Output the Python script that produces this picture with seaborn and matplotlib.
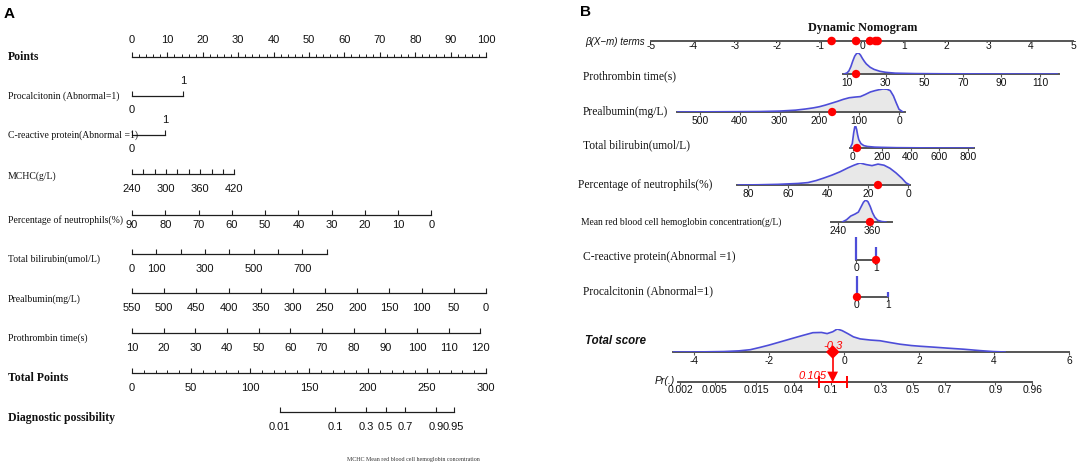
import numpy as np
import matplotlib
matplotlib.use("Agg")
import matplotlib.pyplot as plt
from matplotlib.ticker import NullLocator
import seaborn as sns

# ======================= DATA: panel A (static nomogram) =======================
points_ticks = list(range(0, 101, 10))
points_minor = list(range(0, 101, 2))
pct_levels = [0, 1]
pct_points = [0, 14.4]
crp_levels = [0, 1]
crp_points = [0, 9.3]
mchc_range = [240, 420]
mchc_points = [0, 28.9]
mchc_ticks = list(range(240, 421, 20))
mchc_labels = [240, 300, 360, 420]
neut_range = [90, 0]
neut_points = [0, 84.6]
neut_ticks = list(range(90, -1, -10))
tbil_range = [0, 800]
tbil_points = [0, 55.0]
tbil_ticks = list(range(0, 801, 100))
tbil_labels = [0, 100, 300, 500, 700]
pab_range = [550, 0]
pab_points = [0, 100]
pab_ticks = list(range(550, -1, -50))
pt_range = [10, 120]
pt_points = [0, 98.4]
pt_ticks = list(range(10, 121, 10))
total_range = [0, 300]
total_ticks = list(range(0, 301, 50))
total_minor = list(range(0, 301, 10))
diag_probs = [0.01, 0.1, 0.3, 0.5, 0.7, 0.9, 0.95]
diag_mid_points = 215.0   # total points at possibility 0.5
diag_slope = 0.0511       # logit units per total point

a_labels = ["Points", "Procalcitonin (Abnormal=1)", "C-reactive protein(Abnormal =1)",
            "MCHC(g/L)", "Percentage of neutrophils(%)", "Total bilirubin(umol/L)",
            "Prealbumin(mg/L)", "Prothrombin time(s)", "Total Points", "Diagnostic possibility"]
a_bold = ["Points", "Total Points", "Diagnostic possibility"]

# ======================= DATA: panel B (dynamic nomogram) =======================
beta_ticks = list(range(-5, 6))
beta_terms = [-0.72, -0.14, 0.19, 0.32, 0.37]

pt_dens_x = [8.5, 10, 11, 12, 13, 14, 15, 16, 17, 18, 19, 20, 22, 24, 27, 30, 35, 45, 60, 80, 100, 119]
pt_dens_y = [0.0, 0.05, 0.15, 0.35, 0.62, 0.85, 0.98, 1.0, 0.9, 0.74, 0.6, 0.48, 0.32, 0.22, 0.13,
             0.08, 0.04, 0.02, 0.01, 0.005, 0.0, 0.0]
pt_b_ticks = [10, 30, 50, 70, 90, 110]

pab_dens_x = [557, 450, 350, 300, 260, 235, 215, 200, 185, 170, 155, 140, 125, 110, 97, 85, 72,
              60, 50, 40, 30, 22, 14, 7, 0, -10]
pab_dens_y = [0.0, 0.01, 0.02, 0.04, 0.08, 0.13, 0.18, 0.23, 0.3, 0.38, 0.46, 0.55, 0.62, 0.65,
              0.67, 0.76, 0.87, 0.93, 0.97, 1.0, 0.99, 0.93, 0.7, 0.4, 0.12, 0.0]
pab_b_ticks = [500, 400, 300, 200, 100, 0]

tbil_dens_x = [-20, -5, 5, 12, 18, 25, 32, 40, 55, 75, 100, 150, 200, 300, 450, 600, 840]
tbil_dens_y = [0.0, 0.2, 0.7, 0.95, 1.0, 0.85, 0.6, 0.38, 0.2, 0.11, 0.07, 0.04, 0.03, 0.015,
               0.008, 0.003, 0.0]
tbil_b_ticks = [0, 200, 400, 600, 800]

neut_dens_x = [85, 75, 65, 55, 50, 46, 42, 38, 34, 30, 27, 24, 21, 18, 15, 12, 9, 6, 3, 1, -1]
neut_dens_y = [0.0, 0.01, 0.03, 0.07, 0.11, 0.2, 0.32, 0.45, 0.6, 0.78, 0.9, 1.0, 0.93, 0.88,
               0.95, 0.9, 0.76, 0.55, 0.3, 0.1, 0.0]
neut_b_ticks = [80, 60, 40, 20, 0]

mchc_dens_x = [255, 270, 285, 300, 312, 322, 330, 338, 346, 354, 362, 370, 380, 395, 410]
mchc_dens_y = [0.0, 0.1, 0.27, 0.36, 0.45, 0.7, 0.9, 1.0, 0.92, 0.7, 0.42, 0.22, 0.08, 0.02, 0.0]
mchc_b_ticks = [240, 360]

crp_spikes = [1.0, 0.57]
pct_spikes = [0.96, 0.22]

cur_pt, cur_pab, cur_tbil, cur_neut, cur_mchc, cur_crp, cur_pct = 14.7, 168, 28, 15, 353, 1, 0

score_dens_x = [-4.56, -3.8, -3.2, -2.8, -2.5, -2.24, -2.0, -1.7, -1.36, -1.1, -0.83, -0.6, -0.45,
                -0.3, -0.18, -0.05, 0.1, 0.25, 0.43, 0.7, 0.96, 1.2, 1.49, 1.8, 2.03, 2.4, 2.74,
                3.2, 3.63, 3.97, 4.3]
score_dens_y = [0.0, 0.005, 0.02, 0.05, 0.1, 0.2, 0.3, 0.44, 0.6, 0.72, 0.84, 0.85, 0.8, 0.88,
                1.0, 0.93, 0.8, 0.66, 0.57, 0.52, 0.49, 0.42, 0.34, 0.28, 0.25, 0.21, 0.17, 0.12,
                0.06, 0.02, 0.0]
score_ticks = [-4, -2, 0, 2, 4, 6]
total_score = -0.3
pr_offset = 1.84
pr_value = 0.105
pr_ci = [0.075, 0.147]
pr_ticks = [0.002, 0.005, 0.015, 0.04, 0.1, 0.3, 0.5, 0.7, 0.9, 0.96]

# ======================= STYLE =======================
sns.set_theme(style="white")
SERIF = ["Liberation Serif", "DejaVu Serif"]
SANS = ["Liberation Sans", "DejaVu Sans"]
plt.rcParams["font.family"] = SANS
plt.rcParams["axes.unicode_minus"] = False

W, H = 1084, 474
A_LINE = "#1e1e1e"
B_LINE = "#555555"
BLUE = "#4d4dd8"
FILL = "#e8e8e8"
RED = "#ff0000"


def expit(v):
    return 1.0 / (1.0 + np.exp(-np.asarray(v, dtype=float)))


fig = plt.figure(figsize=(W / 100, H / 100), dpi=100)


def px_axes(left, line_y, width, height):
    ax = fig.add_axes([left / W, 1 - line_y / H, width / W, height / H])
    ax.patch.set_alpha(0)
    for s in ("top", "left", "right"):
        ax.spines[s].set_visible(False)
    ax.tick_params(axis="y", left=False, right=False, labelleft=False)
    ax.grid(False)
    return ax


def fmt(v):
    return str(int(v)) if float(v).is_integer() else str(v)


# ======================= PANEL A =======================
A_X0, A_PX = 132.0, 3.54


def a_scale(line_y, vrange, prange, ticks, labels=None, minor=None, pad=7.2, top=False):
    left = A_X0 + A_PX * prange[0]
    width = A_PX * (prange[1] - prange[0])
    ax = px_axes(left, line_y, width, 1)
    ax.set_ylim(0, 1)
    ax.set_xlim(vrange[0], vrange[1])
    ax.spines["bottom"].set_color(A_LINE)
    ax.spines["bottom"].set_linewidth(0.9)
    shown = ticks if labels is None else labels
    ax.set_xticks(ticks)
    ax.set_xticklabels([fmt(t) if t in shown else "" for t in ticks], family=SANS, fontsize=8,
                       color="#111111")
    if minor is not None:
        ax.set_xticks(minor, minor=True)
    ax.tick_params(axis="x", which="major", direction="in", length=3.5, width=0.8, color=A_LINE,
                   pad=pad, bottom=True, top=False, labelbottom=not top, labeltop=top)
    ax.tick_params(axis="x", which="minor", direction="in", length=2, width=0.7, color=A_LINE,
                   bottom=True, top=False)
    return ax


# Points
a_scale(57, [0, 100], [0, 100], points_ticks, minor=points_minor, pad=8.0, top=True)

# binary rows (0 label below, 1 label above)
for y, lv, pts in ((96, pct_levels, pct_points), (135, crp_levels, crp_points)):
    ax = a_scale(y, lv, pts, lv, pad=7.0)
    ax.tick_params(axis="x", labeltop=True, pad=6.5)
    for tk, v in zip(ax.xaxis.get_major_ticks(), lv):
        tk.label1.set_visible(v == 0)
        tk.label2.set_visible(v == 1)

a_scale(174, mchc_range, mchc_points, mchc_ticks, labels=mchc_labels, pad=7.5)
a_scale(215, neut_range, neut_points, neut_ticks, pad=3.8)
a_scale(254, tbil_range, tbil_points, tbil_ticks, labels=tbil_labels, pad=7.5)
a_scale(293, pab_range, pab_points, pab_ticks, pad=7.0)
a_scale(333, pt_range, pt_points, pt_ticks, pad=7.0)
a_scale(373, total_range, [0, 100], total_ticks, minor=total_minor, pad=7.0)

# Diagnostic possibility on a logit scale aligned with Total Points
axd = px_axes(A_X0, 412, A_PX * 100, 1)
axd.set_xscale("logit")
axd.set_xlim(expit((total_range[0] - diag_mid_points) * diag_slope),
             expit((total_range[1] - diag_mid_points) * diag_slope))
axd.set_ylim(0, 1)
axd.spines["bottom"].set_color(A_LINE)
axd.spines["bottom"].set_linewidth(0.9)
axd.spines["bottom"].set_bounds(diag_probs[0], diag_probs[-1])
axd.set_xticks(diag_probs)
axd.set_xticklabels([str(p) for p in diag_probs], family=SANS, fontsize=8, color="#111111")
axd.xaxis.set_minor_locator(NullLocator())
axd.tick_params(axis="x", which="major", direction="in", length=3.5, width=0.8, color=A_LINE,
                pad=7.5, bottom=True, top=False)

a_label_y = [57, 96, 135, 176, 220, 259, 299, 338, 378, 418]
for lab, y in zip(a_labels, a_label_y):
    bold = lab in a_bold
    fig.text(8 / W, 1 - y / H, lab, ha="left", va="center", family=SERIF,
             fontsize=8.5 if bold else 7, fontweight="bold" if bold else "normal", color="#111111")

fig.text(4 / W, 1 - 14 / H, "A", ha="left", va="center", fontsize=11, fontweight="bold",
         family=SANS, color="#000000")
fig.text(347 / W, 1 - 460 / H, "MCHC Mean red blood cell hemoglobin concentration",
         ha="left", va="center", fontsize=4.3, family=SERIF, color="#333333")

# ======================= PANEL B =======================

def b_scale(line_y, xlim, px_of, height, ticks, pad=1.0, tick_len=2.0):
    left, right = px_of(xlim[0]), px_of(xlim[1])
    ax = px_axes(left, line_y, right - left, height)
    ax.set_xlim(xlim[0], xlim[1])
    ax.set_ylim(0, 1)
    ax.spines["bottom"].set_color(B_LINE)
    ax.spines["bottom"].set_linewidth(1.4)
    ax.set_xticks(ticks)
    ax.set_xticklabels([fmt(t) for t in ticks], fontsize=7.4, family=SANS, color="#111111")
    ax.tick_params(axis="x", which="major", direction="out", length=tick_len, width=0.8,
                   color=B_LINE, pad=pad, bottom=True, top=False)
    return ax


def density(ax, xs, ys):
    ax.fill_between(xs, 0, ys, color=FILL, lw=0, zorder=1)
    sns.lineplot(x=xs, y=ys, ax=ax, color=BLUE, lw=1.2, sort=False, estimator=None,
                 legend=False, zorder=3)


def red_dot(ax, xs, marker="o", s=36, y=None):
    ys = [0] * len(xs) if y is None else y
    sns.scatterplot(x=xs, y=ys, ax=ax, color=RED, s=s, marker=marker, edgecolor="none",
                    legend=False, zorder=6, clip_on=False)


fig.text(863 / W, 1 - 28 / H, "Dynamic Nomogram", ha="center", va="center", family=SERIF,
         fontsize=8.8, fontweight="bold", color="#111111")
fig.text(580 / W, 1 - 12 / H, "B", ha="left", va="center", fontsize=11, fontweight="bold",
         family=SANS, color="#000000")

# beta(X-m) terms axis
axb = b_scale(41, [-5, 5], lambda v: 862 + 42.2 * v, 1, beta_ticks, pad=0.3, tick_len=0)
red_dot(axb, beta_terms, s=38)
fig.text(645 / W, 1 - 42 / H, "β(X−m) terms", ha="right", va="center", fontsize=7.0,
         style="italic", family=SANS, color="#111111")

# Prothrombin time
ax = b_scale(74, [8, 120], lambda v: 847 + 1.93 * (v - 10), 21, pt_b_ticks)
density(ax, pt_dens_x, pt_dens_y)
red_dot(ax, [cur_pt])

# Prealbumin
ax = b_scale(112, [557, -15], lambda v: 899 - 0.398 * v, 23, pab_b_ticks)
density(ax, pab_dens_x, pab_dens_y)
red_dot(ax, [cur_pab])

# Total bilirubin
ax = b_scale(148, [-20, 840], lambda v: 853 + 0.144 * v, 22, tbil_b_ticks)
density(ax, tbil_dens_x, tbil_dens_y)
red_dot(ax, [cur_tbil])

# Percentage of neutrophils
ax = b_scale(185, [85.5, -1], lambda v: 908 - 2.0 * v, 22, neut_b_ticks)
density(ax, neut_dens_x, neut_dens_y)
red_dot(ax, [cur_neut])

# MCHC
ax = b_scale(222, [215, 430], lambda v: 838 + 0.283 * (v - 240), 22, mchc_b_ticks)
density(ax, mchc_dens_x, mchc_dens_y)
red_dot(ax, [cur_mchc])

# C-reactive protein
ax = b_scale(260, [0, 1], lambda v: 856 + 20 * v, 23, crp_levels, pad=0.5)
ax.vlines(crp_levels, 0, crp_spikes, color=BLUE, lw=1.6, clip_on=False, zorder=3)
red_dot(ax, [cur_crp])

# Procalcitonin
ax = b_scale(297, [0, 1], lambda v: 857 + 31 * v, 22, pct_levels, pad=0.5)
ax.vlines(pct_levels, 0, pct_spikes, color=BLUE, lw=1.6, clip_on=False, zorder=3)
red_dot(ax, [cur_pct])

b_labels = [("Prothrombin time(s)", 583, 76, 8.3), ("Prealbumin(mg/L)", 583, 112, 8.3),
            ("Total bilirubin(umol/L)", 583, 145, 8.3),
            ("Percentage of neutrophils(%)", 578, 185, 8.3),
            ("Mean red blood cell hemoglobin concentration(g/L)", 581, 222, 6.9),
            ("C-reactive protein(Abnormal =1)", 583, 257, 8.3),
            ("Procalcitonin (Abnormal=1)", 583, 291, 8.3)]
for txt, x, y, fs in b_labels:
    fig.text(x / W, 1 - y / H, txt, ha="left", va="center", family=SERIF, fontsize=fs,
             color="#111111")

# Total score
score_px = lambda s: 844 + 37.5 * s
axs = b_scale(352, [-4.56, 6.0], score_px, 23, score_ticks, pad=0.8)
density(axs, score_dens_x, score_dens_y)
red_dot(axs, [total_score], marker="D", s=48)
axs.annotate(fmt(total_score), xy=(total_score, 0), xytext=(0.5, 4.5), textcoords="offset points",
             ha="center", va="center", color=RED, fontsize=8, style="italic", family=SANS,
             zorder=7)
fig.text(585 / W, 1 - 341 / H, "Total score", ha="left", va="center", fontsize=8.3,
         style="italic", fontweight="bold", family=SANS, color="#111111")

# Pr(.) axis on a logit scale aligned with the total score
axp = px_axes(score_px(-4.56), 382, score_px(6.0) - score_px(-4.56), 30)
axp.set_xscale("logit")
axp.set_xlim(expit(-4.56 - pr_offset), expit(6.0 - pr_offset))
axp.set_ylim(0, 30)
axp.spines["bottom"].set_color(B_LINE)
axp.spines["bottom"].set_linewidth(1.4)
axp.spines["bottom"].set_bounds(0.0019, pr_ticks[-1])
axp.set_xticks(pr_ticks)
axp.set_xticklabels([str(p) for p in pr_ticks], fontsize=7.4, family=SANS, color="#111111")
axp.xaxis.set_minor_locator(NullLocator())
axp.tick_params(axis="x", which="major", direction="out", length=2, width=0.8, color=B_LINE,
                pad=0.5, bottom=True, top=False)
axp.vlines([pr_value], 5, 30, color=RED, lw=1.2, clip_on=False, zorder=5)
red_dot(axp, [pr_value], marker="v", s=60, y=[5])
axp.errorbar([pr_value], [0], xerr=[[pr_value - pr_ci[0]], [pr_ci[1] - pr_value]], fmt="none",
             ecolor=RED, elinewidth=1.4, capsize=4, capthick=1.4, clip_on=False, zorder=5)
axp.annotate(str(pr_value), xy=(pr_value, 5), xytext=(-4.5, 1), textcoords="offset points",
             ha="right", va="center", color=RED, fontsize=8, style="italic", family=SANS)
fig.text(655 / W, 1 - 381 / H, "Pr(.)", ha="left", va="center", fontsize=7.5, style="italic",
         family=SANS, color="#111111")

fig.savefig("out.png", dpi=100)
